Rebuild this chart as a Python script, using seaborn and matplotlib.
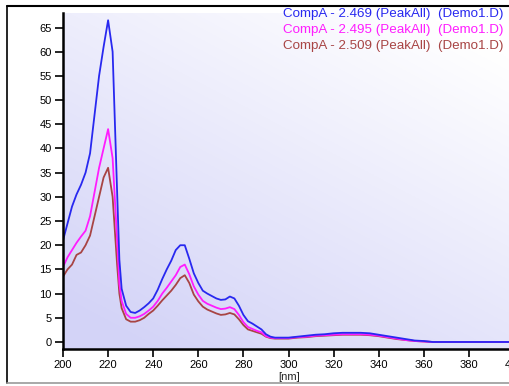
import numpy as np
import pandas as pd
import seaborn as sns
import matplotlib.pyplot as plt
from matplotlib.lines import Line2D

# wavelengths (nm) and absorbance of the three spectra
wavelength = [200, 202, 204, 206, 208, 210, 212, 214, 216, 218, 220, 222, 224, 225, 226, 228,
              230, 232, 234, 236, 238, 240, 242, 244, 246, 248, 250, 252, 254, 256, 258, 260,
              262, 264, 266, 268, 270, 272, 274, 276, 278, 280, 282, 284, 286, 288, 290, 292,
              294, 296, 300, 304, 308, 312, 316, 320, 324, 328, 332, 336, 340, 344, 348, 352,
              356, 360, 364, 380, 400]
blue = [21, 24.5, 28, 30.5, 32.5, 35, 39, 47, 55, 61, 66.5, 60, 31, 17, 11, 7.5,
        6.2, 6, 6.5, 7.2, 8, 9, 10.8, 13, 15, 16.8, 19, 20, 20, 17.2, 14.2, 12.2,
        10.6, 10, 9.5, 9, 8.7, 8.8, 9.4, 9, 7.5, 5.6, 4.3, 3.8, 3.2, 2.6, 1.6, 1.1,
        0.9, 0.9, 0.9, 1.1, 1.3, 1.5, 1.6, 1.8, 1.9, 1.9, 1.9, 1.8, 1.5, 1.2, 0.9, 0.6,
        0.3, 0.2, 0, 0, 0]
magenta = [15.5, 17.5, 19, 20.5, 21.8, 23, 26, 31, 36, 40, 44, 38, 21, 12, 8.5, 5.8,
           5, 5, 5.3, 5.8, 6.5, 7.3, 8.5, 10, 11.2, 12.5, 13.8, 15.5, 16, 14, 11.5, 9.8,
           8.5, 7.9, 7.5, 7.1, 6.8, 6.9, 7.2, 6.8, 5.6, 4.1, 3.1, 2.7, 2.3, 2, 1.2, 0.9,
           0.8, 0.8, 0.8, 1, 1.1, 1.3, 1.4, 1.5, 1.6, 1.6, 1.6, 1.5, 1.3, 1.0, 0.7, 0.4,
           0.2, 0.1, 0, 0, 0]
brown = [13.5, 15, 16, 18, 18.5, 20, 22, 26, 30, 34, 36, 30, 16, 10, 7, 4.7,
         4.2, 4.2, 4.5, 5, 5.8, 6.5, 7.5, 8.6, 9.6, 10.6, 11.8, 13.2, 13.8, 12.2, 9.8, 8.4,
         7.3, 6.7, 6.3, 5.9, 5.6, 5.7, 6, 5.7, 4.7, 3.5, 2.6, 2.3, 2.0, 1.7, 1.1, 0.8,
         0.7, 0.7, 0.7, 0.9, 1.0, 1.2, 1.3, 1.4, 1.5, 1.5, 1.5, 1.4, 1.2, 0.9, 0.6, 0.4,
         0.2, 0.1, 0, 0, 0]
series_names = ["CompA - 2.469 (PeakAll)  (Demo1.D)",
                "CompA - 2.495 (PeakAll)  (Demo1.D)",
                "CompA - 2.509 (PeakAll)  (Demo1.D)"]
colors = ["#2828f0", "#ff1cff", "#a84444"]
x_ticks = [200, 220, 240, 260, 280, 300, 320, 340, 360, 380, 400]
y_ticks = [0, 5, 10, 15, 20, 25, 30, 35, 40, 45, 50, 55, 60, 65]

df = pd.DataFrame({"nm": wavelength * 3,
                   "value": blue + magenta + brown,
                   "series": [series_names[0]] * len(wavelength)
                   + [series_names[1]] * len(wavelength)
                   + [series_names[2]] * len(wavelength)})

sns.set_style("white")
plt.rcParams["font.family"] = ["Liberation Sans", "DejaVu Sans"]

fig = plt.figure(figsize=(5.09, 3.86), dpi=100)
ax = fig.add_axes([63 / 509, 37 / 386, 451 / 509, 336 / 386])

# lavender -> white diagonal gradient behind the plot
gx, gy = np.meshgrid(np.linspace(0, 1, 200), np.linspace(0, 1, 200))
g = np.clip(0.5 * (1 - gx) + 0.7 * (1 - gy) - 0.1, 0, 1)
img = np.ones((200, 200, 3))
img[..., 0] = 1 - g * 0.17
img[..., 1] = 1 - g * 0.17
img[..., 2] = 1 - g * 0.03
ax.imshow(img, extent=[0, 1, 0, 1], transform=ax.transAxes, origin="lower",
          aspect="auto", zorder=0)

sns.lineplot(data=df, x="nm", y="value", hue="series", hue_order=series_names[::-1],
             palette=colors[::-1], linewidth=1.3, legend=False, ax=ax, zorder=2)

ax.set_xlim(200, 400)
ax.set_ylim(-1.45, 68)
ax.set_xticks(x_ticks)
ax.set_yticks(y_ticks)
ax.set_xlabel("")
ax.set_ylabel("")
for s in ["top", "right"]:
    ax.spines[s].set_visible(False)
for s in ["left", "bottom"]:
    ax.spines[s].set_linewidth(1.8)
    ax.spines[s].set_color("black")
ax.tick_params(direction="out", length=6, width=1.2, colors="black", labelsize=8, pad=2,
               left=True, bottom=True)

for i, name in enumerate(series_names):
    fig.text(283 / 509, 1 - (14 + 16 * i) / 386, name, color=colors[i], fontsize=9.6,
             ha="left", va="center")

fig.text(289 / 509, 1 - 377 / 386, "[nm]", fontsize=8, ha="center", va="center")

# outer panel frame
fig.add_artist(Line2D([7 / 509, 7 / 509], [3 / 386, 1 - 6 / 386], color="black", lw=1.2))
fig.add_artist(Line2D([7 / 509, 1], [1 - 6 / 386, 1 - 6 / 386], color="black", lw=1.5))
fig.add_artist(Line2D([7 / 509, 1], [3 / 386, 3 / 386], color="#999999", lw=1.2))

fig.savefig("out.png", dpi=100)
